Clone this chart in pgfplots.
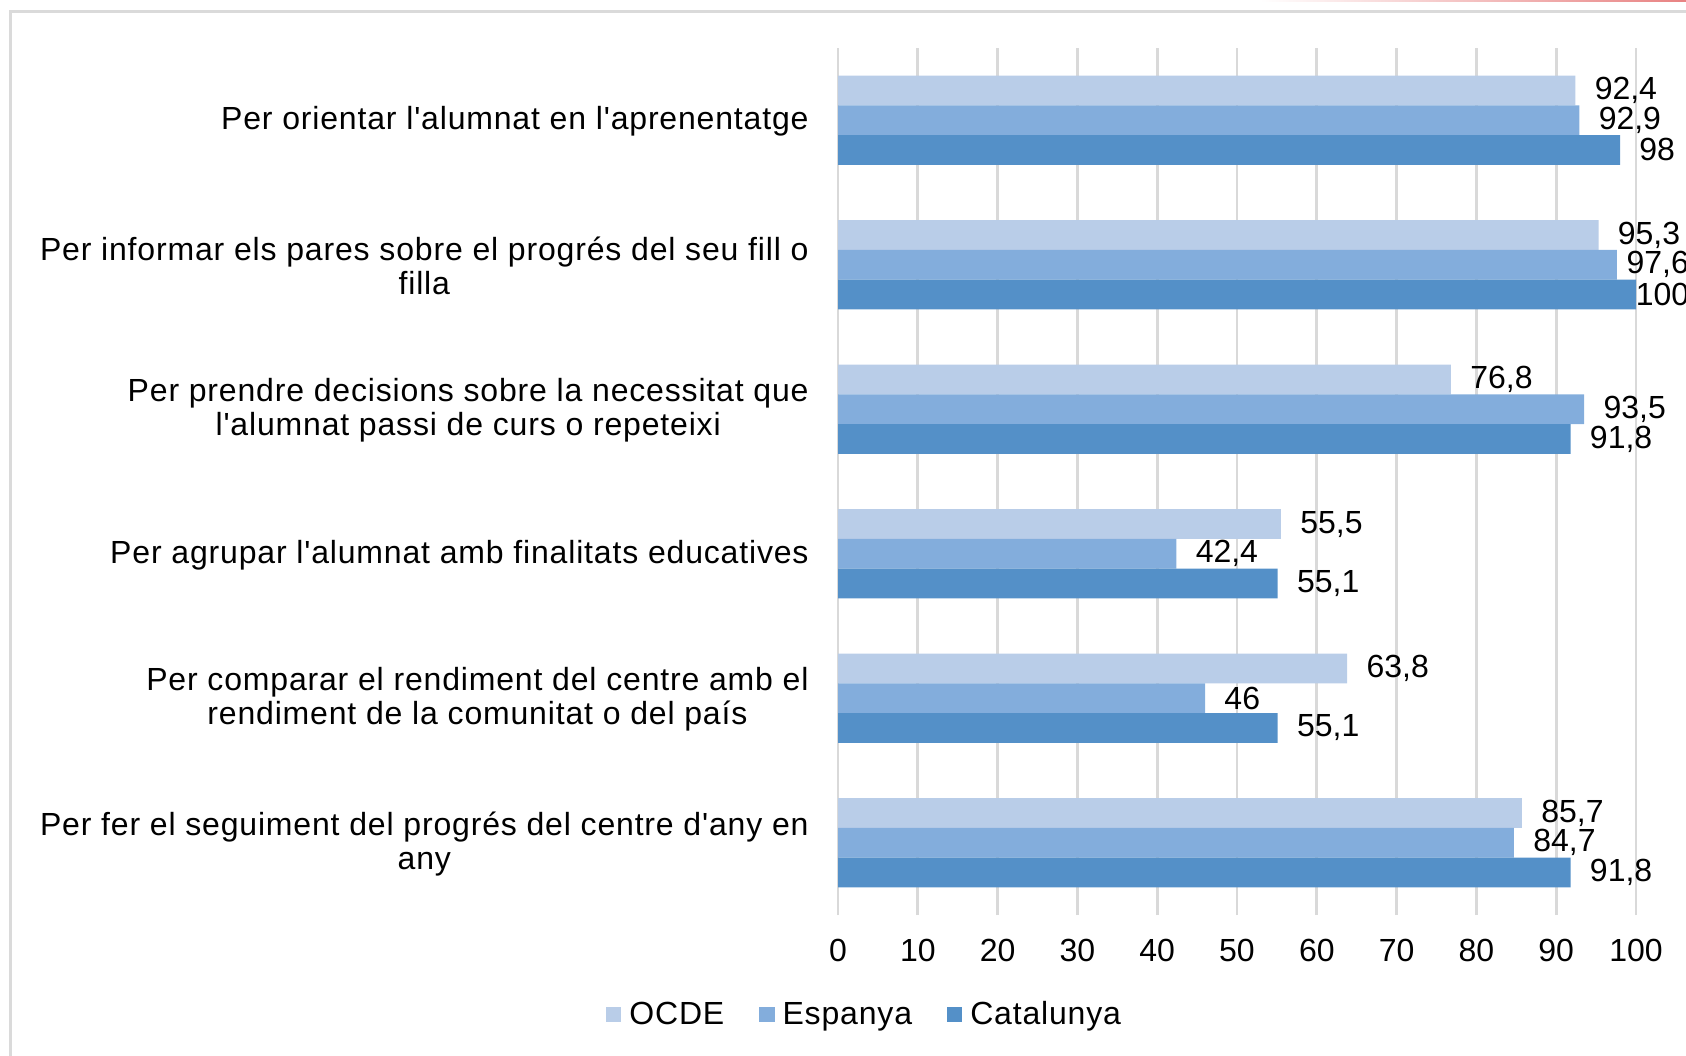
\documentclass[border=0pt]{standalone}
\usepackage{pgfplots}
\usepackage{pgfplotstable}
\pgfplotsset{compat=1.18}
\usepackage{fontspec}
\setmainfont{Liberation Sans}[Ligatures=TeXOff,LetterSpace=2.6]
\newfontfamily\numfont{Liberation Sans}
\definecolor{ocde}{RGB}{185,205,232}
\definecolor{esp}{RGB}{131,173,220}
\definecolor{cat}{RGB}{84,144,200}
\definecolor{gridc}{RGB}{217,217,217}
\definecolor{framec}{RGB}{218,218,218}
\definecolor{redl}{RGB}{232,130,130}
% y: 5 = top category, 0 = bottom category
\pgfplotstableread{
x y
85.7 0
63.8 1
55.5 2
76.8 3
95.3 4
92.4 5
}\ocdedata
\pgfplotstableread{
x y
84.7 0
46 1
42.4 2
93.5 3
97.6 4
92.9 5
}\espdata
\pgfplotstableread{
x y
91.8 0
55.1 1
55.1 2
91.8 3
100 4
98 5
}\catdata
\begin{document}
\begin{tikzpicture}
\path[use as bounding box] (0,0) rectangle (843pt,527.5pt);
\draw[framec, line width=1.5pt] (5.3pt,-2pt) -- (5.3pt,521.8pt) -- (850pt,521.8pt);
\shade[left color=white, right color=redl] (630pt,526.6pt) rectangle (843pt,527.6pt);
\begin{axis}[
  at={(419pt,70pt)}, anchor=south west,
  scale only axis, width=399pt, height=433.5pt,
  xmin=0, xmax=100, ymin=-0.5, ymax=5.5,
  xbar, bar width=14.85pt,
  axis line style={draw=none},
  xmajorgrids, grid style={gridc, line width=1.4pt},
  xtick={0,10,...,100},
  ytick={0,1,2,3,4,5},
  major tick length=0pt,
  tick style={draw=none},
  clip=false,
  /pgf/number format/use comma,
  /pgf/number format/1000 sep={},
  /pgf/number format/assume math mode=true,
  xticklabel style={font=\numfont\fontsize{16}{19}\selectfont, inner sep=0pt, anchor=north, yshift=-12pt},
  yticklabel style={font=\fontsize{16}{17.2}\selectfont, align=center, inner sep=0pt, anchor=east, xshift=-14.5pt, yshift=-0.6pt},
  yticklabels={
    {Per fer el seguiment del progrés del centre d'any en\\any},
    {Per comparar el rendiment del centre amb el\\rendiment de la comunitat o del país},
    {Per agrupar l'alumnat amb finalitats educatives},
    {Per prendre decisions sobre la necessitat que\\l'alumnat passi de curs o repeteixi},
    {Per informar els pares sobre el progrés del seu fill o\\filla},
    {Per orientar l'alumnat en l'aprenentatge}},
  nodes near coords,
  nodes near coords style={font=\numfont\fontsize{16}{19}\selectfont, anchor=west, inner sep=0pt, xshift=9.5pt, text=black},
  legend style={at={(-0.2985,-0.115)}, anchor=west, draw=none, fill=none,
    font=\fontsize{16}{19}\selectfont, legend columns=3, column sep=0pt,
    nodes={inner sep=0pt},
    /tikz/every even column/.append style={column sep=17.5pt}},
  legend image code/.code={\fill[#1] (0pt,-3.8pt) rectangle (7.6pt,3.8pt);},
]
\addplot[fill=ocde, draw=none, bar shift=14.85pt] table[x=x, y=y] {\ocdedata};
\addlegendentry{\hspace{4pt}OCDE}
\addplot[fill=esp, draw=none, bar shift=0pt,
  coordinate style/.condition={x>97}{xshift=-4.8pt}] table[x=x, y=y] {\espdata};
\addlegendentry{\hspace{4pt}Espanya}
\addplot[fill=cat, draw=none, bar shift=-14.85pt,
  coordinate style/.condition={x>99}{xshift=-9.8pt}] table[x=x, y=y] {\catdata};
\addlegendentry{\hspace{4pt}Catalunya}
\end{axis}
\end{tikzpicture}
\end{document}
